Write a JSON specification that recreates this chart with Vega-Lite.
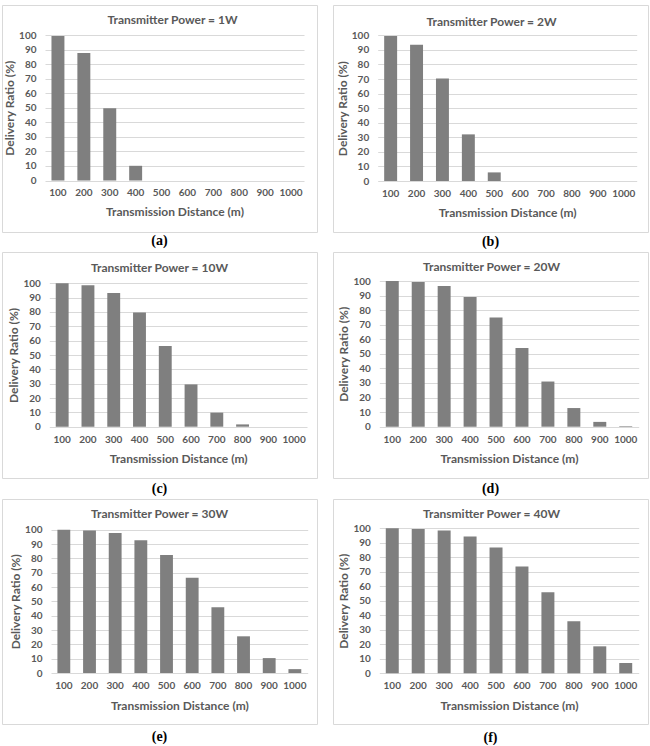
{
  "$schema": "https://vega.github.io/schema/vega-lite/v6.json",
  "background": "white",
  "padding": {"left": 1, "top": 4, "right": 0, "bottom": 0},
  "datasets": {
    "delivery": [
      {"power": 1, "distance": 100, "ratio": 99.3},
      {"power": 1, "distance": 200, "ratio": 87.6},
      {"power": 1, "distance": 300, "ratio": 49.7},
      {"power": 1, "distance": 400, "ratio": 10.1},
      {"power": 1, "distance": 500, "ratio": 0},
      {"power": 1, "distance": 600, "ratio": 0},
      {"power": 1, "distance": 700, "ratio": 0},
      {"power": 1, "distance": 800, "ratio": 0},
      {"power": 1, "distance": 900, "ratio": 0},
      {"power": 1, "distance": 1000, "ratio": 0},
      {"power": 2, "distance": 100, "ratio": 99.5},
      {"power": 2, "distance": 200, "ratio": 93.5},
      {"power": 2, "distance": 300, "ratio": 70.3},
      {"power": 2, "distance": 400, "ratio": 32.0},
      {"power": 2, "distance": 500, "ratio": 5.9},
      {"power": 2, "distance": 600, "ratio": 0},
      {"power": 2, "distance": 700, "ratio": 0},
      {"power": 2, "distance": 800, "ratio": 0},
      {"power": 2, "distance": 900, "ratio": 0},
      {"power": 2, "distance": 1000, "ratio": 0},
      {"power": 10, "distance": 100, "ratio": 100},
      {"power": 10, "distance": 200, "ratio": 98.6},
      {"power": 10, "distance": 300, "ratio": 93.2},
      {"power": 10, "distance": 400, "ratio": 79.7},
      {"power": 10, "distance": 500, "ratio": 56.3},
      {"power": 10, "distance": 600, "ratio": 29.5},
      {"power": 10, "distance": 700, "ratio": 9.8},
      {"power": 10, "distance": 800, "ratio": 1.6},
      {"power": 10, "distance": 900, "ratio": 0},
      {"power": 10, "distance": 1000, "ratio": 0},
      {"power": 20, "distance": 100, "ratio": 100},
      {"power": 20, "distance": 200, "ratio": 99.3},
      {"power": 20, "distance": 300, "ratio": 96.5},
      {"power": 20, "distance": 400, "ratio": 89.0},
      {"power": 20, "distance": 500, "ratio": 75.0},
      {"power": 20, "distance": 600, "ratio": 54.1},
      {"power": 20, "distance": 700, "ratio": 31.0},
      {"power": 20, "distance": 800, "ratio": 12.8},
      {"power": 20, "distance": 900, "ratio": 3.3},
      {"power": 20, "distance": 1000, "ratio": 0.4},
      {"power": 30, "distance": 100, "ratio": 100},
      {"power": 30, "distance": 200, "ratio": 99.5},
      {"power": 30, "distance": 300, "ratio": 97.7},
      {"power": 30, "distance": 400, "ratio": 92.6},
      {"power": 30, "distance": 500, "ratio": 82.4},
      {"power": 30, "distance": 600, "ratio": 66.4},
      {"power": 30, "distance": 700, "ratio": 45.9},
      {"power": 30, "distance": 800, "ratio": 25.6},
      {"power": 30, "distance": 900, "ratio": 10.4},
      {"power": 30, "distance": 1000, "ratio": 2.7},
      {"power": 40, "distance": 100, "ratio": 100},
      {"power": 40, "distance": 200, "ratio": 99.6},
      {"power": 40, "distance": 300, "ratio": 98.4},
      {"power": 40, "distance": 400, "ratio": 94.4},
      {"power": 40, "distance": 500, "ratio": 86.7},
      {"power": 40, "distance": 600, "ratio": 73.6},
      {"power": 40, "distance": 700, "ratio": 55.9},
      {"power": 40, "distance": 800, "ratio": 35.9},
      {"power": 40, "distance": 900, "ratio": 18.6},
      {"power": 40, "distance": 1000, "ratio": 7.1}
    ]
  },
  "config": {
    "font": "Lato",
    "view": {"stroke": "#d9d9d9", "strokeWidth": 1},
    "bar": {"color": "#7f7f7f"},
    "axis": {
      "domain": false,
      "ticks": false,
      "labelFont": "Lato",
      "labelFontWeight": "bold",
      "labelFontSize": 10,
      "labelColor": "#595959",
      "titleFont": "Lato",
      "titleFontWeight": "bold",
      "titleFontSize": 12,
      "titleColor": "#595959",
      "gridColor": "#d9d9d9",
      "gridWidth": 1
    },
    "title": {
      "font": "Lato",
      "fontSize": 12,
      "fontWeight": "bold",
      "color": "#595959",
      "anchor": "middle",
      "frame": "group"
    }
  },
  "columns": 2,
  "spacing": {"row": 2, "column": 14},
  "concat": [
    {
      "title": {"text": "(a)", "orient": "bottom", "frame": "bounds", "offset": 1.5, "font": "Liberation Serif", "fontSize": 14, "color": "#000000"},
      "vconcat": [
        {
          "width": 315,
          "height": 227,
          "title": {"text": "Transmitter Power = 1W", "offset": -22, "dx": 13},
          "data": {"name": "delivery"},
          "transform": [{"filter": "datum.power == 1"}],
          "mark": "bar",
          "encoding": {
            "x": {"field": "distance", "type": "ordinal",
              "scale": {"range": [43, 302], "paddingInner": 0.5, "paddingOuter": 0.25},
              "axis": {"title": "Transmission Distance (m)", "labelAngle": 0, "offset": -51.5, "labelPadding": 7, "titlePadding": 9}},
            "y": {"field": "ratio", "type": "quantitative",
              "scale": {"domain": [0, 100], "range": [175.5, 30], "nice": false},
              "axis": {"title": "Delivery Ratio (%)", "values": [0, 10, 20, 30, 40, 50, 60, 70, 80, 90, 100], "offset": -43, "grid": true, "labelPadding": 9, "titlePadding": 2}}
          }
        }
      ]
    },
    {
      "title": {"text": "(b)", "orient": "bottom", "frame": "bounds", "offset": 2.5, "font": "Liberation Serif", "fontSize": 14, "color": "#000000"},
      "vconcat": [
        {
          "width": 315,
          "height": 227,
          "title": {"text": "Transmitter Power = 2W", "offset": -24, "dx": 1},
          "data": {"name": "delivery"},
          "transform": [{"filter": "datum.power == 2"}],
          "mark": "bar",
          "encoding": {
            "x": {"field": "distance", "type": "ordinal",
              "scale": {"range": [44.7, 303.7], "paddingInner": 0.5, "paddingOuter": 0.25},
              "axis": {"title": "Transmission Distance (m)", "labelAngle": 0, "offset": -51, "labelPadding": 7, "titlePadding": 9}},
            "y": {"field": "ratio", "type": "quantitative",
              "scale": {"domain": [0, 100], "range": [176, 30.3], "nice": false},
              "axis": {"title": "Delivery Ratio (%)", "values": [0, 10, 20, 30, 40, 50, 60, 70, 80, 90, 100], "offset": -44.7, "grid": true, "labelPadding": 9, "titlePadding": 2}}
          }
        }
      ]
    },
    {
      "title": {"text": "(c)", "orient": "bottom", "frame": "bounds", "offset": 3.5, "font": "Liberation Serif", "fontSize": 14, "color": "#000000"},
      "vconcat": [
        {
          "width": 315,
          "height": 226,
          "title": {"text": "Transmitter Power = 10W", "offset": -23, "dx": 0},
          "data": {"name": "delivery"},
          "transform": [{"filter": "datum.power == 10"}],
          "mark": "bar",
          "encoding": {
            "x": {"field": "distance", "type": "ordinal",
              "scale": {"range": [47.3, 305], "paddingInner": 0.5, "paddingOuter": 0.25},
              "axis": {"title": "Transmission Distance (m)", "labelAngle": 0, "offset": -51.3, "labelPadding": 7.5, "titlePadding": 9.5}},
            "y": {"field": "ratio", "type": "quantitative",
              "scale": {"domain": [0, 100], "range": [174.7, 31.3], "nice": false},
              "axis": {"title": "Delivery Ratio (%)", "values": [0, 10, 20, 30, 40, 50, 60, 70, 80, 90, 100], "offset": -47.3, "grid": true, "labelPadding": 9, "titlePadding": 2}}
          }
        }
      ]
    },
    {
      "title": {"text": "(d)", "orient": "bottom", "frame": "bounds", "offset": 3, "font": "Liberation Serif", "fontSize": 14, "color": "#000000"},
      "vconcat": [
        {
          "width": 315,
          "height": 226,
          "title": {"text": "Transmitter Power = 20W", "offset": -22, "dx": 1},
          "data": {"name": "delivery"},
          "transform": [{"filter": "datum.power == 20"}],
          "mark": "bar",
          "encoding": {
            "x": {"field": "distance", "type": "ordinal",
              "scale": {"range": [46.3, 305.7], "paddingInner": 0.5, "paddingOuter": 0.25},
              "axis": {"title": "Transmission Distance (m)", "labelAngle": 0, "offset": -51.3, "labelPadding": 7.5, "titlePadding": 9.5}},
            "y": {"field": "ratio", "type": "quantitative",
              "scale": {"domain": [0, 100], "range": [174.7, 29], "nice": false},
              "axis": {"title": "Delivery Ratio (%)", "values": [0, 10, 20, 30, 40, 50, 60, 70, 80, 90, 100], "offset": -46.3, "grid": true, "labelPadding": 9, "titlePadding": 2}}
          }
        }
      ]
    },
    {
      "title": {"text": "(e)", "orient": "bottom", "frame": "bounds", "offset": 5, "font": "Liberation Serif", "fontSize": 14, "color": "#000000"},
      "vconcat": [
        {
          "width": 315,
          "height": 225,
          "title": {"text": "Transmitter Power = 30W", "offset": -22.3, "dx": 0},
          "data": {"name": "delivery"},
          "transform": [{"filter": "datum.power == 30"}],
          "mark": "bar",
          "encoding": {
            "x": {"field": "distance", "type": "ordinal",
              "scale": {"range": [49, 305.7], "paddingInner": 0.5, "paddingOuter": 0.25},
              "axis": {"title": "Transmission Distance (m)", "labelAngle": 0, "offset": -51, "labelPadding": 7.5, "titlePadding": 9.5}},
            "y": {"field": "ratio", "type": "quantitative",
              "scale": {"domain": [0, 100], "range": [174, 30.7], "nice": false},
              "axis": {"title": "Delivery Ratio (%)", "values": [0, 10, 20, 30, 40, 50, 60, 70, 80, 90, 100], "offset": -49, "grid": true, "labelPadding": 9, "titlePadding": 2}}
          }
        }
      ]
    },
    {
      "title": {"text": "(f)", "orient": "bottom", "frame": "bounds", "offset": 6.5, "font": "Liberation Serif", "fontSize": 14, "color": "#000000"},
      "vconcat": [
        {
          "width": 315,
          "height": 225,
          "title": {"text": "Transmitter Power = 40W", "offset": -21.7, "dx": 1},
          "data": {"name": "delivery"},
          "transform": [{"filter": "datum.power == 40"}],
          "mark": "bar",
          "encoding": {
            "x": {"field": "distance", "type": "ordinal",
              "scale": {"range": [46.3, 305.7], "paddingInner": 0.5, "paddingOuter": 0.25},
              "axis": {"title": "Transmission Distance (m)", "labelAngle": 0, "offset": -50.7, "labelPadding": 7.5, "titlePadding": 9.5}},
            "y": {"field": "ratio", "type": "quantitative",
              "scale": {"domain": [0, 100], "range": [174.3, 29.3], "nice": false},
              "axis": {"title": "Delivery Ratio (%)", "values": [0, 10, 20, 30, 40, 50, 60, 70, 80, 90, 100], "offset": -46.3, "grid": true, "labelPadding": 9, "titlePadding": 2}}
          }
        }
      ]
    }
  ]
}
